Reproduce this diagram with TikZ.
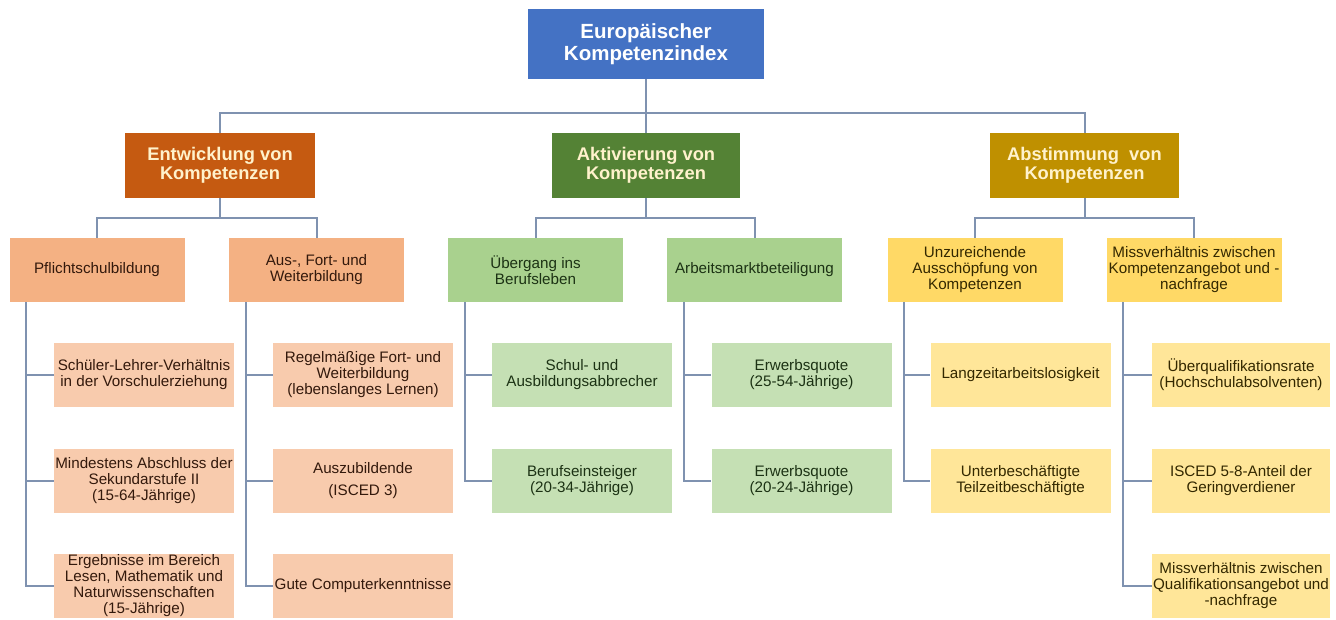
\documentclass[tikz,border=0pt]{standalone}
\usepackage{fontspec}
\setmainfont{Liberation Sans}
\definecolor{cRoot}{HTML}{4472C4}
\definecolor{cEnt}{HTML}{C55A11}
\definecolor{cAkt}{HTML}{548235}
\definecolor{cAbs}{HTML}{BF9000}
\definecolor{oSub}{HTML}{F4B183}
\definecolor{oLeaf}{HTML}{F8CBAD}
\definecolor{gSub}{HTML}{A9D18E}
\definecolor{gLeaf}{HTML}{C5E0B4}
\definecolor{ySub}{HTML}{FFD966}
\definecolor{yLeaf}{HTML}{FFE699}
\definecolor{oTxt}{HTML}{33190C}
\definecolor{gTxt}{HTML}{1C3214}
\definecolor{yTxt}{HTML}{332800}
\definecolor{cCream}{HTML}{FFF2CC}
\definecolor{lineC}{HTML}{7F92B0}
\begin{document}
\begin{tikzpicture}[x=1pt,y=-1pt,
  conn/.style={draw=lineC, line width=2pt},
  base/.style={rectangle, inner sep=0pt, align=center, anchor=center},
  rootbox/.style={base, fill=cRoot, minimum width=236pt, minimum height=70pt, text=white, font=\fontsize{20.5}{21.5}\selectfont\bfseries},
  catbox/.style={base, minimum width=189pt, minimum height=65pt, text=cCream, font=\fontsize{18.3}{19.5}\selectfont\bfseries},
  subbox/.style={base, minimum width=175pt, minimum height=64pt, font=\fontsize{15.2}{16}\selectfont},
  leafbox/.style={base, minimum width=180pt, minimum height=64pt, font=\fontsize{15.2}{16}\selectfont},
  oS/.style={subbox, fill=oSub, text=oTxt},
  oL/.style={leafbox, fill=oLeaf, text=oTxt},
  gS/.style={subbox, fill=gSub, text=gTxt},
  gL/.style={leafbox, fill=gLeaf, text=gTxt},
  yS/.style={subbox, fill=ySub, text=yTxt},
  yL/.style={leafbox, fill=yLeaf, text=yTxt},
]
\useasboundingbox[fill=white] (0,0) rectangle (1336,619);

% root
\node[rootbox] (root) at (646,44) {Europäischer\\Kompetenzindex};

% level 1
\node[catbox, fill=cEnt, minimum width=190pt] (e) at (220,165.5) {Entwicklung von\\Kompetenzen};
\node[catbox, fill=cAkt, minimum width=188pt] (ak) at (646,165.5) {Aktivierung von\\Kompetenzen};
\node[catbox, fill=cAbs] (ab) at (1084.5,165.5) {Abstimmung\ \ von\\Kompetenzen};

% level 2
\node[oS] (p) at (97,270) {Pflichtschulbildung};
\node[oS] (a) at (316.5,270) {Aus-, Fort- und\\Weiterbildung};
\node[gS] (u) at (535.5,270) {Übergang ins\\Berufsleben};
\node[gS] (m) at (754.5,270) {Arbeitsmarktbeteiligung};
\node[yS] (z) at (975,270) {Unzureichende\\Ausschöpfung von\\Kompetenzen};
\node[yS] (mv) at (1194,270) {Missverhältnis zwischen\\Kompetenzangebot und -\\nachfrage};

% level 3
\node[oL] (p1) at (144,375) {Schüler-Lehrer-Verhältnis\\in der Vorschulerziehung};
\node[oL] (p2) at (144,480.5) {Mindestens Abschluss der\\Sekundarstufe II\\(15-64-Jährige)};
\node[oL] (p3) at (144,585.5) {Ergebnisse im Bereich\\Lesen, Mathematik und\\Naturwissenschaften\\(15-Jährige)};
\node[oL] (a1) at (363,375) {Regelmäßige Fort- und\\Weiterbildung\\(lebenslanges Lernen)};
\node[oL] (a2) at (363,480.5) {Auszubildende\\[6pt](ISCED 3)};
\node[oL] (a3) at (363,585.5) {Gute Computerkenntnisse};
\node[gL] (u1) at (582,375) {Schul- und\\Ausbildungsabbrecher};
\node[gL] (u2) at (582,480.5) {Berufseinsteiger\\(20-34-Jährige)};
\node[gL] (m1) at (801.5,375) {Erwerbsquote\\(25-54-Jährige)};
\node[gL] (m2) at (801.5,480.5) {Erwerbsquote\\(20-24-Jährige)};
\node[yL] (z1) at (1020.5,375) {Langzeitarbeitslosigkeit};
\node[yL] (z2) at (1020.5,480.5) {Unterbeschäftigte\\Teilzeitbeschäftigte};
\node[yL, minimum width=178pt] (mv1) at (1241,375) {Überqualifikationsrate\\(Hochschulabsolventen)};
\node[yL, minimum width=178pt] (mv2) at (1241,480.5) {ISCED 5-8-Anteil der\\Geringverdiener};
\node[yL, minimum width=178pt] (mv3) at (1241,585.5) {Missverhältnis zwischen\\Qualifikationsangebot und\\-nachfrage};

% connectors root -> level 1
\draw[conn] (root.south) -- (ak.north);
\draw[conn] (root.south) -- ++(0,34) -| (e.north);
\draw[conn] (root.south) -- ++(0,34) -| (ab.north);

% level 1 -> level 2
\draw[conn] (e.south) -- ++(0,20) -| (p.north);
\draw[conn] (e.south) -- ++(0,20) -| (a.north);
\draw[conn] (ak.south) -- ++(0,20) -| (u.north);
\draw[conn] (ak.south) -- ++(0,20) -| (m.north);
\draw[conn] (ab.south) -- ++(0,20) -| (z.north);
\draw[conn] (ab.south) -- ++(0,20) -| (mv.north);

% level 2 -> level 3
\foreach \pn/\kids in {p/{p1,p2,p3}, a/{a1,a2,a3}, u/{u1,u2}, m/{m1,m2}, z/{z1,z2}, mv/{mv1,mv2,mv3}}{
  \foreach \kid in \kids {
    \draw[conn] ([xshift=17pt]\pn.south west) |- (\kid.west);
  }
}
\end{tikzpicture}
\end{document}
